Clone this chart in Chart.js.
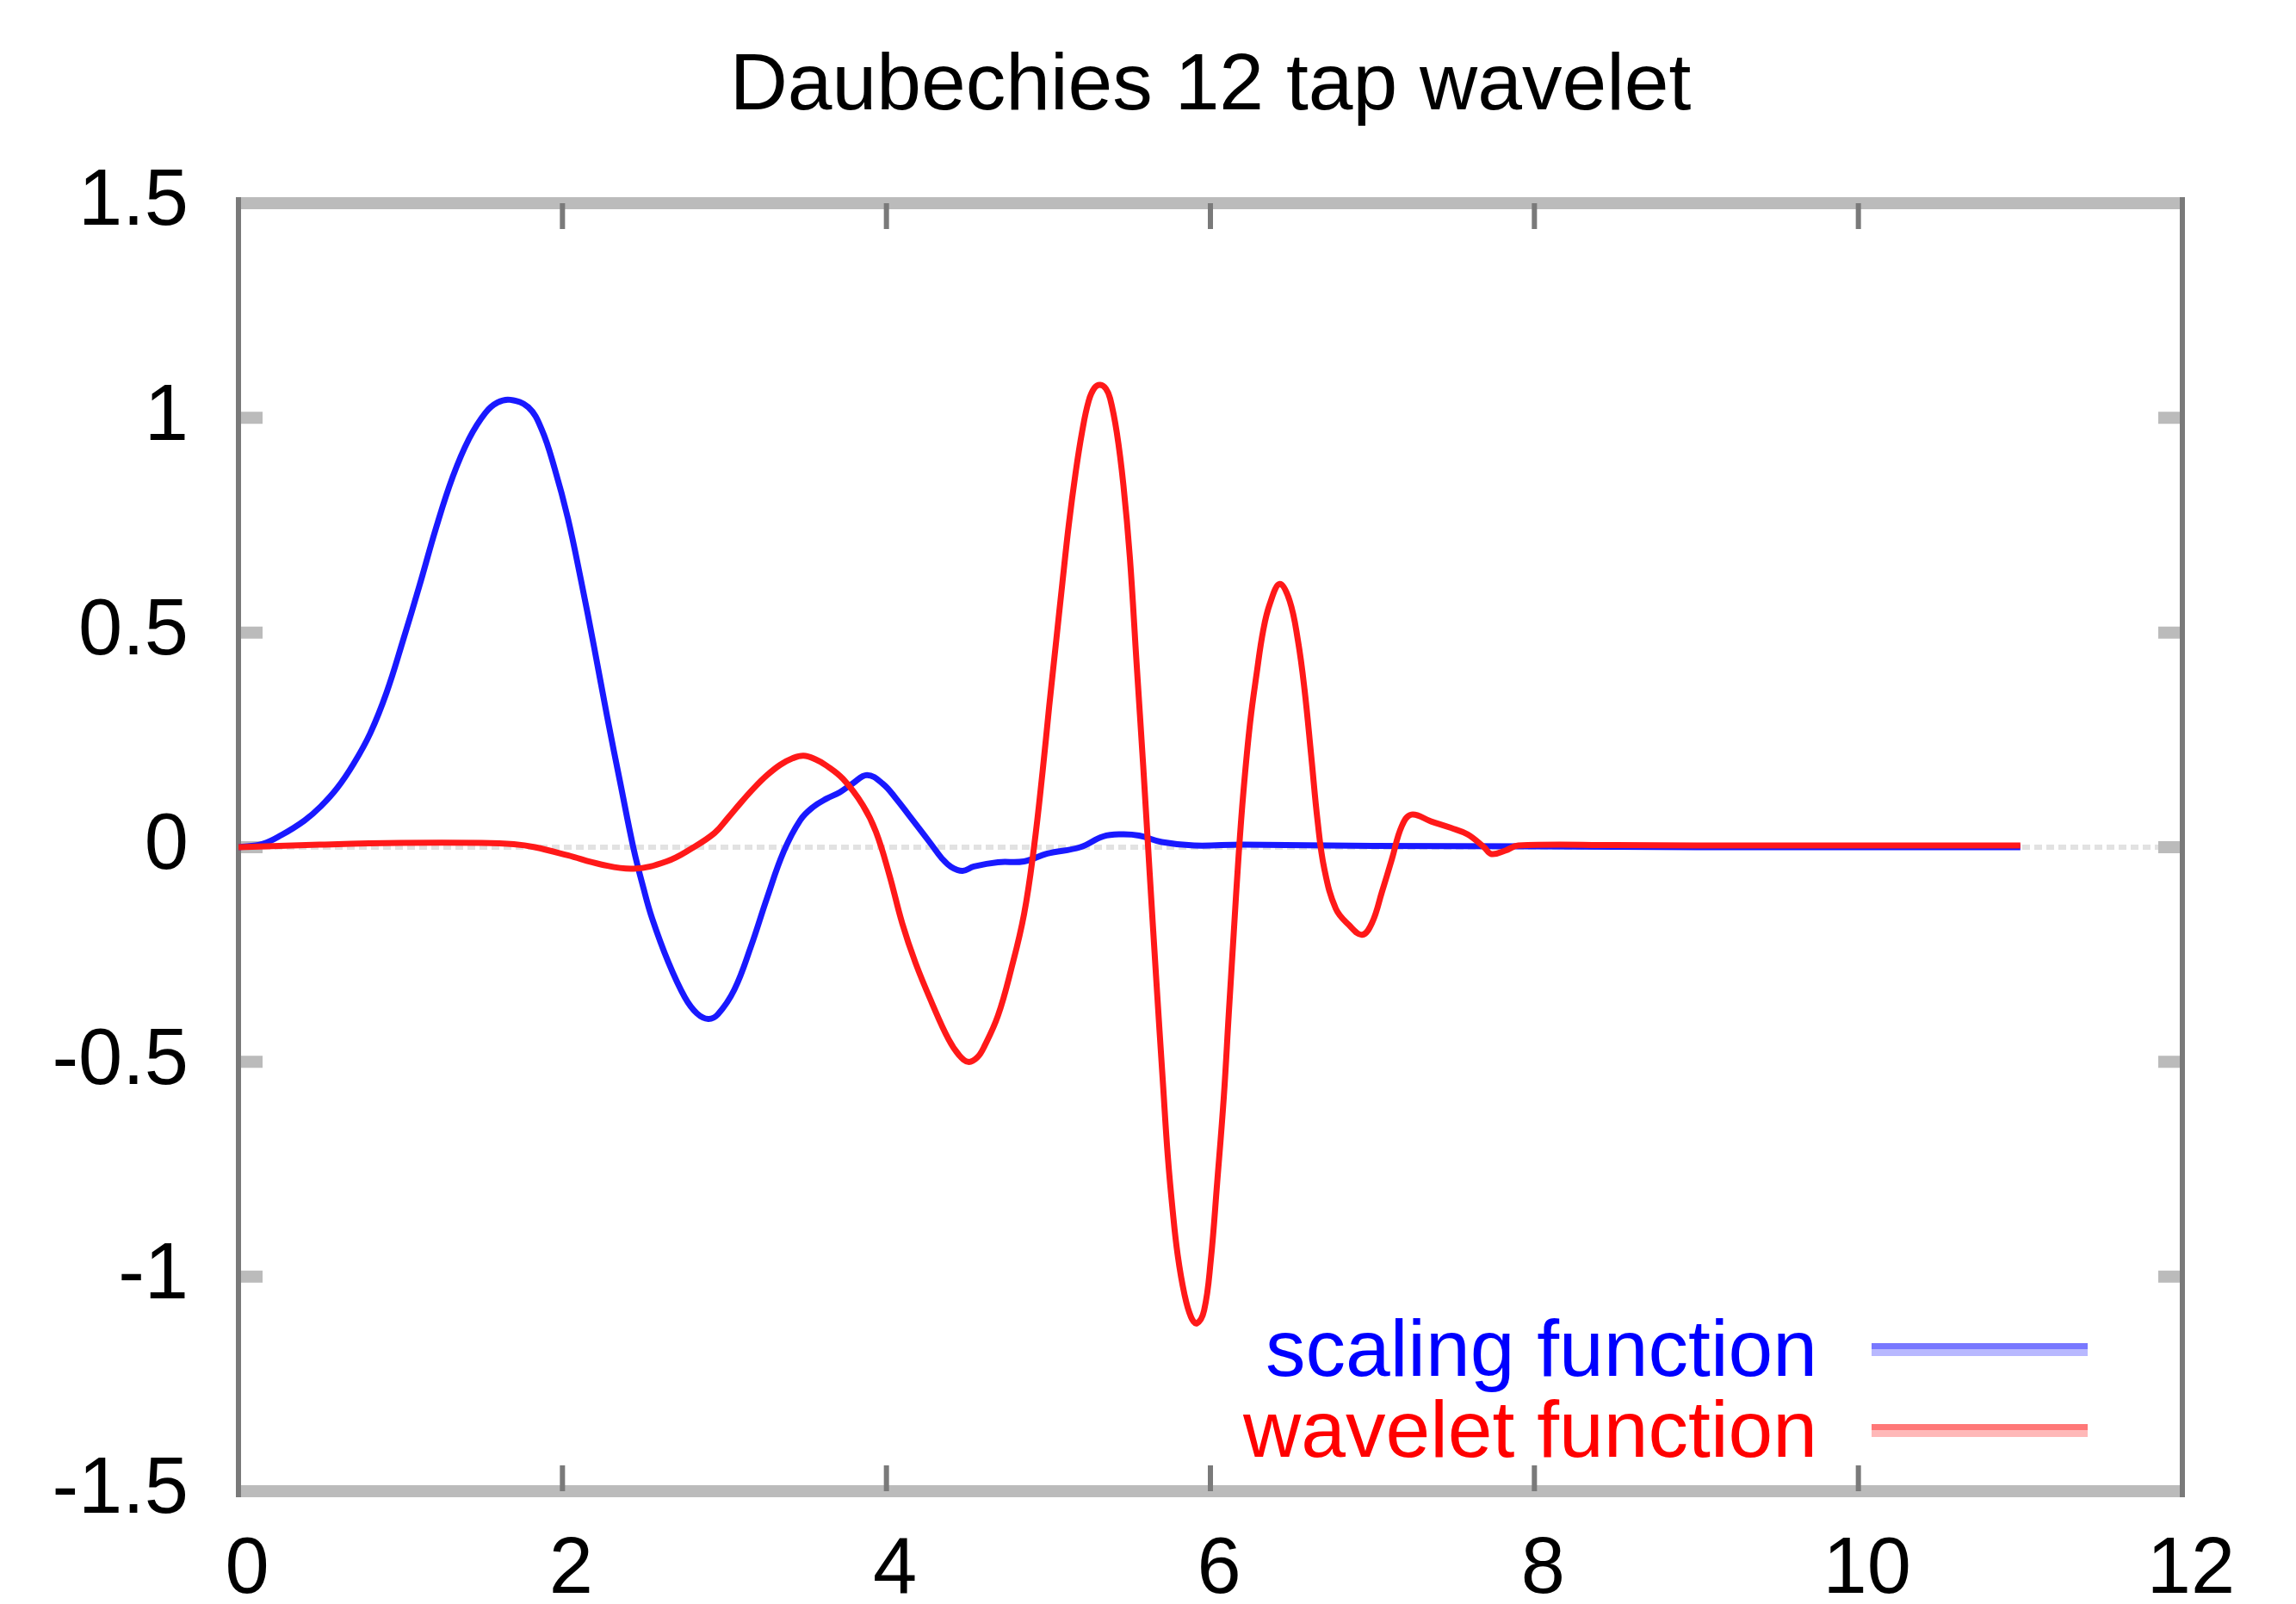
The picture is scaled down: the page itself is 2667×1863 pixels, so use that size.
<!DOCTYPE html>
<html>
<head>
<meta charset="utf-8">
<title>Daubechies 12 tap wavelet</title>
<script src="https://cdn.jsdelivr.net/npm/chart.js@4.4.1/dist/chart.umd.min.js"></script>
<style>
    html, body { margin: 0; padding: 0; background: #fff; }
    canvas { display: block; }
</style>
</head>
<body>
<canvas id="waveletChart" width="2667" height="1863"></canvas>
<script>
const chartTitle = 'Daubechies 12 tap wavelet';
const seriesNames = ['scaling function', 'wavelet function'];
const xTicks = [0, 2, 4, 6, 8, 10, 12];
const yTicks = [-1.5, -1, -0.5, 0, 0.5, 1, 1.5];

// values
const scalingX = [0, 0.15, 0.264, 0.407, 0.508, 0.61, 0.712, 0.813, 0.915, 1.017, 1.118, 1.22, 1.322, 1.423, 1.525,
    1.6, 1.678, 1.789, 1.871, 1.952, 2.033, 2.115, 2.196, 2.277, 2.359, 2.44, 2.5, 2.553, 2.654, 2.756,
    2.83, 2.9, 2.96, 3.061, 3.163, 3.264, 3.366, 3.468, 3.549, 3.63, 3.712, 3.79, 3.88, 3.977, 4.06,
    4.14, 4.22, 4.28, 4.34, 4.4, 4.47, 4.54, 4.688, 4.85, 4.993, 5.196, 5.338, 5.45, 5.56, 5.7,
    5.9, 6.2, 7, 8, 9, 10, 11];
const scalingY = [0, 0.008, 0.028, 0.062, 0.095, 0.138, 0.195, 0.265, 0.361, 0.483, 0.61, 0.744, 0.862, 0.951, 1.012,
    1.036, 1.042, 1.025, 0.974, 0.882, 0.767, 0.621, 0.465, 0.302, 0.146, -0.005, -0.095, -0.165, -0.268, -0.35,
    -0.387, -0.4, -0.389, -0.332, -0.232, -0.117, -0.01, 0.063, 0.094, 0.113, 0.128, 0.148, 0.168, 0.148, 0.113,
    0.074, 0.035, 0.005, -0.025, -0.046, -0.055, -0.045, -0.035, -0.033, -0.015, 0.0, 0.025, 0.03, 0.027, 0.012,
    0.004, 0.006, 0.003, 0.002, 0, 0, 0];

const waveletX = [0, 0.5, 1.0, 1.5, 1.7, 1.83, 2.033, 2.237, 2.44, 2.643, 2.797, 2.939, 3.021, 3.102, 3.183,
    3.264, 3.345, 3.42, 3.488, 3.56, 3.63, 3.732, 3.854, 3.935, 4.017, 4.098, 4.18, 4.281, 4.383, 4.45,
    4.505, 4.56, 4.607, 4.688, 4.769, 4.85, 4.911, 4.964, 5.005, 5.045, 5.086, 5.127, 5.167, 5.208, 5.249,
    5.285, 5.32, 5.355, 5.381, 5.422, 5.463, 5.503, 5.544, 5.585, 5.625, 5.666, 5.707, 5.737, 5.768, 5.798,
    5.839, 5.88, 5.916, 5.961, 6.002, 6.042, 6.083, 6.113, 6.144, 6.174, 6.204, 6.245, 6.286, 6.326, 6.367,
    6.428, 6.489, 6.54, 6.581, 6.622, 6.662, 6.703, 6.774, 6.855, 6.937, 6.998, 7.059, 7.12, 7.181, 7.241,
    7.363, 7.485, 7.587, 7.689, 7.735, 7.82, 7.9, 8.5, 9, 10, 11];
const waveletY = [0, 0.006, 0.01, 0.01, 0.007, 0.0, -0.019, -0.04, -0.05, -0.033, -0.003, 0.033, 0.068, 0.104, 0.138,
    0.168, 0.192, 0.207, 0.213, 0.205, 0.19, 0.159, 0.098, 0.036, -0.063, -0.178, -0.27, -0.363, -0.447, -0.485,
    -0.5, -0.49, -0.462, -0.393, -0.286, -0.155, 0.0, 0.176, 0.329, 0.47, 0.615, 0.755, 0.87, 0.968, 1.04,
    1.07, 1.077, 1.068, 1.045, 0.966, 0.843, 0.674, 0.43, 0.19, -0.06, -0.31, -0.55, -0.72, -0.85, -0.95,
    -1.04, -1.094, -1.109, -1.079, -0.963, -0.78, -0.58, -0.39, -0.2, -0.02, 0.13, 0.29, 0.406, 0.505, 0.567,
    0.613, 0.574, 0.482, 0.367, 0.214, 0.06, -0.05, -0.143, -0.181, -0.204, -0.176, -0.104, -0.028, 0.049, 0.076,
    0.06, 0.045, 0.03, 0.0, -0.016, -0.008, 0.004, 0.005, 0.004, 0.004, 0.004];

const FONT = '"Liberation Sans", Arial, sans-serif';

// gnuplot style frame: border, mirrored inward ticks, dotted zero axis
const gnuplotFrame = {
    id: 'gnuplotFrame',
    beforeDatasetsDraw(chart) {
        const { ctx, chartArea: a, scales: { x, y } } = chart;
        const y0 = y.getPixelForValue(0);
        ctx.save();
        ctx.strokeStyle = '#e2e2e2';
        ctx.lineWidth = 6;
        ctx.setLineDash([9, 5]);
        ctx.beginPath();
        ctx.moveTo(a.left, y0);
        ctx.lineTo(a.right, y0);
        ctx.stroke();
        ctx.setLineDash([]);

        // horizontal pieces come out thick and light in the reference
        ctx.strokeStyle = '#bbbbbb';
        ctx.lineWidth = 14;
        ctx.beginPath();
        ctx.moveTo(a.left, a.top); ctx.lineTo(a.right, a.top);
        ctx.moveTo(a.left, a.bottom); ctx.lineTo(a.right, a.bottom);
        yTicks.forEach(v => {
            const py = y.getPixelForValue(v);
            ctx.moveTo(a.left, py); ctx.lineTo(a.left + 28, py);
            ctx.moveTo(a.right - 28, py); ctx.lineTo(a.right, py);
        });
        ctx.stroke();

        // vertical pieces thin and darker
        ctx.strokeStyle = '#7a7a7a';
        ctx.lineWidth = 6;
        ctx.beginPath();
        ctx.moveTo(a.left, a.top - 7); ctx.lineTo(a.left, a.bottom + 7);
        ctx.moveTo(a.right, a.top - 7); ctx.lineTo(a.right, a.bottom + 7);
        xTicks.forEach(v => {
            const px = x.getPixelForValue(v);
            ctx.moveTo(px, a.top); ctx.lineTo(px, a.top + 30);
            ctx.moveTo(px, a.bottom - 30); ctx.lineTo(px, a.bottom);
        });
        ctx.stroke();
        ctx.restore();
    },
    afterDraw(chart) {
        const { ctx, chartArea: a } = chart;
        ctx.save();

        ctx.fillStyle = '#000';
        ctx.font = `93px ${FONT}`;
        ctx.textAlign = 'center';
        ctx.textBaseline = 'alphabetic';
        ctx.fillText(chartTitle, (a.left + a.right) / 2, a.top - 109);

        // legend, bottom right inside the frame
        const keys = [
            { text: seriesNames[0], color: '#0000ff', hi: 'rgb(120,120,255)', lo: 'rgb(184,184,255)', lineY: a.bottom - 165, base: a.bottom - 134 },
            { text: seriesNames[1], color: '#ff0000', hi: 'rgb(255,120,120)', lo: 'rgb(255,184,184)', lineY: a.bottom - 71, base: a.bottom - 40 }
        ];
        ctx.font = `93px ${FONT}`;
        ctx.textAlign = 'right';
        keys.forEach(k => {
            ctx.fillStyle = k.color;
            ctx.fillText(k.text, a.right - 424, k.base);
            ctx.fillStyle = k.hi;
            ctx.fillRect(a.right - 361, k.lineY - 7, 251, 7);
            ctx.fillStyle = k.lo;
            ctx.fillRect(a.right - 361, k.lineY, 251, 8);
        });
        ctx.restore();
    }
};

class WaveletChart {
    constructor(canvasId) {
        this.canvas = document.getElementById(canvasId);
        this.render();
    }

    series(xs, ys) {
        return xs.map((x, i) => ({ x, y: ys[i] }));
    }

    render() {
        Chart.defaults.font.family = FONT;
        Chart.defaults.color = '#000';

        this.chart = new Chart(this.canvas.getContext('2d'), {
            type: 'line',
            data: {
                datasets: [
                    {
                        label: seriesNames[0],
                        data: this.series(scalingX, scalingY),
                        borderColor: 'rgb(25,25,255)',
                        borderWidth: 7,
                        pointRadius: 0,
                        tension: 0.4,
                        order: 1
                    },
                    {
                        label: seriesNames[1],
                        data: this.series(waveletX, waveletY),
                        borderColor: 'rgb(255,25,25)',
                        borderWidth: 7,
                        pointRadius: 0,
                        tension: 0.4,
                        order: 0
                    }
                ]
            },
            options: {
                responsive: false,
                devicePixelRatio: 1,
                animation: false,
                layout: { padding: { top: 236, right: 132, left: 0, bottom: 0 } },
                plugins: {
                    legend: { display: false },
                    title: { display: false },
                    tooltip: { enabled: false }
                },
                scales: {
                    x: {
                        type: 'linear',
                        min: 0,
                        max: 12,
                        grid: { display: false, drawTicks: false },
                        border: { display: false },
                        afterBuildTicks: s => { s.ticks = xTicks.map(v => ({ value: v })); },
                        afterFit: s => { s.height = 131; },
                        ticks: {
                            font: { size: 92 },
                            color: '#000',
                            padding: 37,
                            labelOffset: 10,
                            maxRotation: 0,
                            callback: v => String(v)
                        }
                    },
                    y: {
                        type: 'linear',
                        min: -1.5,
                        max: 1.5,
                        grid: { display: false, drawTicks: false },
                        border: { display: false },
                        afterBuildTicks: s => { s.ticks = yTicks.map(v => ({ value: v })); },
                        afterFit: s => { s.width = 277; },
                        ticks: {
                            font: { size: 92 },
                            color: '#000',
                            padding: 58,
                            callback: v => String(v)
                        }
                    }
                }
            },
            plugins: [gnuplotFrame]
        });
    }
}

document.addEventListener('DOMContentLoaded', () => {
    window.waveletChart = new WaveletChart('waveletChart');
});
</script>
</body>
</html>
